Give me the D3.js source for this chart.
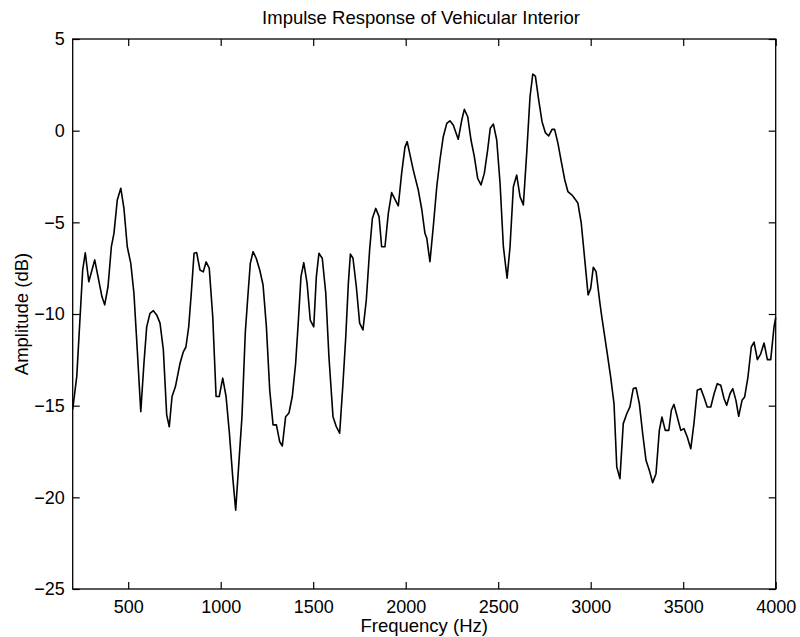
<!DOCTYPE html>
<html>
<head>
<meta charset="utf-8">
<script src="https://cdn.jsdelivr.net/npm/d3@7"></script>
<style>
  body { margin: 0; background: #fff; }
  svg text { font-family: "Liberation Sans", Arial, Helvetica, sans-serif; fill: #000; }
</style>
</head>
<body>
<div id="chart"></div>
<script>
// Valeurs (Hz, dB)
const frequencies = [
  200, 222, 254, 268, 287, 319, 358, 373, 391, 409, 423, 441, 460, 477, 495, 514, 531, 549, 568, 585,
  600, 618, 636, 654, 672, 690, 708, 722, 737, 755, 780, 798, 812, 827, 841, 856, 870, 888, 906, 921,
  938, 957, 975, 992, 1011, 1029, 1047, 1065, 1081, 1097, 1115, 1133, 1148, 1160, 1175, 1192, 1211, 1229, 1247, 1265,
  1283, 1301, 1319, 1333, 1351, 1369, 1387, 1405, 1419, 1434, 1449, 1467, 1484, 1503, 1517, 1531, 1549, 1568, 1585, 1607,
  1625, 1643, 1661, 1676, 1690, 1701, 1715, 1733, 1751, 1769, 1787, 1805, 1820, 1838, 1856, 1870, 1888, 1906, 1924, 1942,
  1960, 1978, 1996, 2008, 2041, 2068, 2087, 2104, 2114, 2131, 2149, 2168, 2185, 2203, 2222, 2239, 2257, 2284, 2303, 2317,
  2335, 2353, 2371, 2389, 2407, 2425, 2443, 2457, 2474, 2492, 2510, 2528, 2548, 2564, 2582, 2600, 2618, 2636, 2654, 2672,
  2687, 2701, 2719, 2737, 2755, 2773, 2791, 2805, 2823, 2841, 2860, 2877, 2899, 2917, 2931, 2949, 2968, 2986, 3000, 3014,
  3029, 3050, 3060, 3087, 3108, 3126, 3141, 3158, 3176, 3195, 3212, 3230, 3245, 3263, 3281, 3299, 3317, 3335, 3353, 3371,
  3385, 3403, 3422, 3436, 3450, 3468, 3487, 3504, 3522, 3541, 3558, 3576, 3595, 3612, 3630, 3649, 3667, 3684, 3703, 3721,
  3735, 3753, 3768, 3785, 3800, 3818, 3832, 3850, 3868, 3883, 3901, 3919, 3937, 3955, 3973, 3991, 4000
];
const amplitudes = [
  -15.2, -13.4, -7.6, -6.66, -8.24, -7.05, -9.05, -9.5, -8.5, -6.33, -5.6, -3.78, -3.14, -4.24, -6.33, -7.24, -8.87, -11.96, -15.33, -12.7,
  -10.7, -9.96, -9.82, -10.05, -10.5, -11.96, -15.5, -16.15, -14.5, -13.97, -12.7, -12.06, -11.8, -10.7, -8.87, -6.69, -6.65, -7.6, -7.7, -7.16,
  -7.5, -10.15, -14.5, -14.5, -13.5, -14.5, -16.5, -18.9, -20.7, -18.3, -15.6, -11.0, -8.87, -7.24, -6.6, -6.96, -7.6, -8.42, -10.7, -14.15,
  -16.05, -16.05, -16.97, -17.2, -15.6, -15.4, -14.5, -12.7, -10.5, -7.96, -7.2, -8.33, -10.33, -10.7, -7.96, -6.69, -6.96, -8.87, -12.33, -15.6,
  -16.15, -16.5, -13.78, -11.24, -8.33, -6.73, -6.96, -8.5, -10.5, -10.87, -9.24, -6.5, -4.78, -4.24, -4.69, -6.33, -6.33, -4.51, -3.38, -3.75,
  -4.1, -2.33, -0.9, -0.6, -2.15, -3.24, -4.3, -5.6, -5.87, -7.15, -5.24, -3.06, -1.6, -0.33, 0.4, 0.54, 0.31, -0.47, 0.58, 1.16,
  0.76, -0.51, -1.42, -2.6, -2.96, -2.33, -1.05, 0.13, 0.36, -0.51, -2.87, -6.33, -8.05, -6.33, -3.06, -2.42, -3.6, -4.05, -1.24, 1.85,
  3.09, 2.98, 1.67, 0.49, -0.11, -0.29, 0.07, 0.07, -0.69, -1.69, -2.69, -3.33, -3.51, -3.75, -3.96, -5.05, -7.05, -8.96, -8.6, -7.45,
  -7.69, -9.42, -10.16, -11.98, -13.44, -14.89, -18.35, -18.98, -15.98, -15.44, -15.07, -14.07, -14.02, -14.89, -16.53, -17.98, -18.53, -19.2, -18.71, -16.35,
  -15.62, -16.35, -16.35, -15.25, -14.93, -15.62, -16.35, -16.25, -16.71, -17.35, -15.98, -14.16, -14.07, -14.53, -15.07, -15.07, -14.35, -13.8, -13.89, -14.62,
  -14.98, -14.35, -14.07, -14.71, -15.58, -14.71, -14.53, -13.44, -11.8, -11.53, -12.49, -12.17, -11.58, -12.49, -12.49, -10.7, -10.2
];
const xTicks = [500, 1000, 1500, 2000, 2500, 3000, 3500, 4000];
const yTicks = [-25, -20, -15, -10, -5, 0, 5];

const width = 800, height = 637;
const margin = { top: 39, right: 24.3, bottom: 48, left: 72.7 };
const innerW = width - margin.left - margin.right;
const innerH = height - margin.top - margin.bottom;

const data = frequencies.map((f, i) => ({ f: f, a: amplitudes[i] }));

const svg = d3.select("#chart").append("svg")
    .attr("width", width)
    .attr("height", height);

const g = svg.append("g")
    .attr("transform", `translate(${margin.left},${margin.top})`);

// Échelles
const x = d3.scaleLinear().domain([200, 4000]).range([0, innerW]);
const y = d3.scaleLinear().domain([-25, 5]).range([innerH, 0]);

// Axes (graduations vers l'intérieur)
const styleAxis = sel => {
  sel.select(".domain").remove();
  sel.selectAll("line").attr("stroke", "#000").attr("stroke-width", 1.2);
  sel.selectAll("text").attr("font-size", "18px").attr("fill", "#000");
};

g.append("g")
    .attr("transform", `translate(0,${innerH})`)
    .call(d3.axisBottom(x).tickValues(xTicks).tickFormat(d3.format("d"))
        .tickSizeInner(-7).tickSizeOuter(0).tickPadding(11))
    .call(styleAxis);

g.append("g")
    .call(d3.axisTop(x).tickValues(xTicks).tickSizeInner(-7).tickSizeOuter(0).tickFormat(""))
    .call(styleAxis);

g.append("g")
    .call(d3.axisLeft(y).tickValues(yTicks).tickSizeInner(-7).tickSizeOuter(0).tickPadding(8))
    .call(styleAxis);

g.append("g")
    .attr("transform", `translate(${innerW},0)`)
    .call(d3.axisRight(y).tickValues(yTicks).tickSizeInner(-7).tickSizeOuter(0).tickFormat(""))
    .call(styleAxis);

// Cadre
g.append("rect")
    .attr("width", innerW)
    .attr("height", innerH)
    .attr("fill", "none")
    .attr("stroke", "#000")
    .attr("stroke-width", 1.3);

// Courbe
const line = d3.line()
    .x(d => x(d.f))
    .y(d => y(d.a));

g.append("path")
    .datum(data)
    .attr("fill", "none")
    .attr("stroke", "#000")
    .attr("stroke-width", 1.6)
    .attr("stroke-linejoin", "round")
    .attr("d", line);

// Titre et libellés
svg.append("text")
    .attr("x", 421)
    .attr("y", 24)
    .attr("text-anchor", "middle")
    .attr("font-size", "18.5px")
    .text("Impulse Response of Vehicular Interior");

svg.append("text")
    .attr("x", margin.left + innerW / 2)
    .attr("y", 632)
    .attr("text-anchor", "middle")
    .attr("font-size", "18.5px")
    .text("Frequency (Hz)");

svg.append("text")
    .attr("transform", `translate(28,${margin.top + innerH / 2}) rotate(-90)`)
    .attr("text-anchor", "middle")
    .attr("font-size", "18.5px")
    .text("Amplitude (dB)");
</script>
</body>
</html>
